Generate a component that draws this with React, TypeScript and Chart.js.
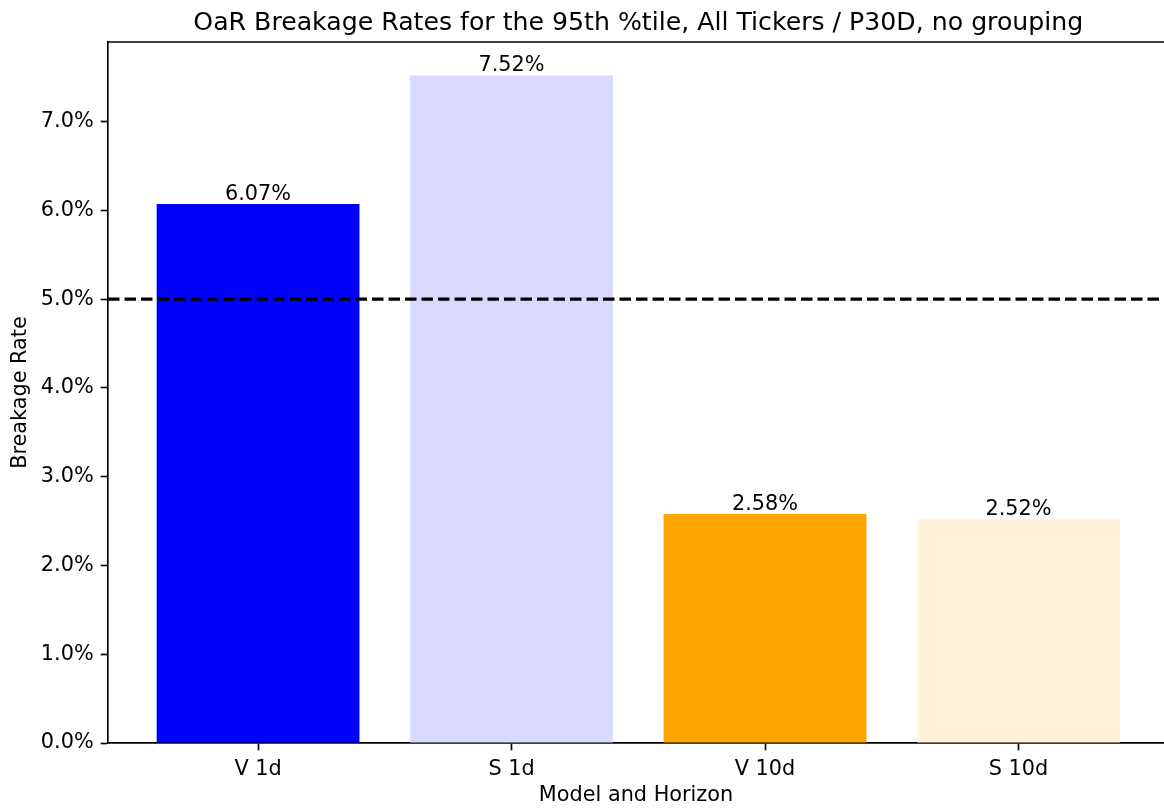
import React, { useEffect, useRef } from "react";
import { Chart, registerables } from "chart.js";

Chart.register(...registerables);

const categories = ["V 1d", "S 1d", "V 10d", "S 10d"];
const breakageRates = [6.07, 7.52, 2.58, 2.52];
const barColors = ["#0000ff", "#d9d9ff", "#ffa500", "#fff2d9"];
const yTicks = [0, 1, 2, 3, 4, 5, 6, 7];
const threshold = 5.0;
const titleText = "OaR Breakage Rates for the 95th %tile, All Tickers / P30D, no grouping";
const xLabel = "Model and Horizon";
const yLabel = "Breakage Rate";

const FONT = "'DejaVu Sans', sans-serif";
const FS = 20.8;

export default function App() {
  const ref = useRef<HTMLCanvasElement | null>(null);

  useEffect(() => {
    const canvas = ref.current;
    if (!canvas) return;

    const decorations = {
      id: "decorations",
      afterDatasetsDraw(chart: any) {
        const ctx = chart.ctx;
        const area = chart.chartArea;
        const y = chart.scales.y;
        const x = chart.scales.x;
        // threshold dashed line
        ctx.save();
        ctx.strokeStyle = "#000";
        ctx.lineWidth = 3.1;
        ctx.setLineDash([11.5, 5]);
        const ty = y.getPixelForValue(threshold);
        ctx.beginPath();
        ctx.moveTo(area.left, ty);
        ctx.lineTo(area.right, ty);
        ctx.stroke();
        ctx.restore();
        // bar labels
        ctx.save();
        ctx.fillStyle = "#000";
        ctx.font = `${FS}px ${FONT}`;
        ctx.textAlign = "center";
        ctx.textBaseline = "alphabetic";
        const meta = chart.getDatasetMeta(0);
        meta.data.forEach((bar: any, i: number) => {
          ctx.fillText(breakageRates[i].toFixed(2) + "%", bar.x, bar.y - 4);
        });
        ctx.restore();
        // top spine
        ctx.save();
        ctx.strokeStyle = "#000";
        ctx.lineWidth = 1.65;
        ctx.beginPath();
        ctx.moveTo(area.left - 0.8, area.top);
        ctx.lineTo(area.right, area.top);
        ctx.stroke();
        ctx.restore();
        // title, centred over the category span
        ctx.save();
        ctx.fillStyle = "#000";
        ctx.font = `25.2px ${FONT}`;
        ctx.textAlign = "center";
        ctx.textBaseline = "alphabetic";
        const cx = x.getPixelForValue((categories.length - 1) / 2);
        ctx.fillText(titleText, cx, area.top - 12);
        ctx.restore();
      },
    };

    const chart = new Chart(canvas, {
      type: "bar",
      data: {
        datasets: [
          {
            data: breakageRates.map((v, i) => ({ x: i, y: v })),
            backgroundColor: barColors,
            borderWidth: 0,
            barPercentage: 1,
            categoryPercentage: 0.8,
          },
        ],
      },
      options: {
        responsive: false,
        animation: false,
        layout: { padding: { top: 42, left: 0, right: 0, bottom: 0 } },
        plugins: {
          legend: { display: false },
          tooltip: { enabled: false },
          title: { display: false },
        },
        scales: {
          x: {
            type: "linear",
            min: -0.592,
            max: 3.574,
            offset: false,
            afterBuildTicks(scale: any) {
              scale.ticks = categories.map((_, i) => ({ value: i }));
            },
            afterFit(scale: any) {
              scale.height = 67;
            },
            ticks: {
              color: "#000",
              font: { family: FONT, size: FS },
              padding: 6.5,
              maxRotation: 0,
              autoSkip: false,
              callback: (v: any) => categories[Math.round(Number(v))] ?? "",
            },
            grid: {
              display: true,
              offset: false,
              drawOnChartArea: false,
              drawTicks: true,
              tickLength: 7.3,
              tickWidth: 1.65,
              tickColor: "#000",
            },
            border: { display: true, color: "#000", width: 1.65 },
            title: {
              display: true,
              text: xLabel,
              color: "#000",
              font: { family: FONT, size: FS },
              padding: { top: 1.8, bottom: 1.8 },
            },
          },
          y: {
            type: "linear",
            min: 0,
            max: 7.896,
            afterBuildTicks(scale: any) {
              scale.ticks = yTicks.map((v) => ({ value: v }));
            },
            afterFit(scale: any) {
              scale.width = 108;
            },
            ticks: {
              color: "#000",
              font: { family: FONT, size: FS },
              padding: 7,
              callback: (v: any) => Number(v).toFixed(1) + "%",
            },
            grid: {
              display: true,
              drawOnChartArea: false,
              drawTicks: true,
              tickLength: 7.3,
              tickWidth: 1.65,
              tickColor: "#000",
            },
            border: { display: true, color: "#000", width: 1.65 },
            title: {
              display: true,
              text: yLabel,
              color: "#000",
              font: { family: FONT, size: FS },
              padding: { top: 8, bottom: 4 },
            },
          },
        },
      },
      plugins: [decorations],
    } as any);

    return () => chart.destroy();
  }, []);

  return (
    <div
      style={{
        position: "fixed",
        left: 0,
        top: 0,
        width: 1164,
        height: 810,
        overflow: "hidden",
        background: "#fff",
      }}
    >
      <canvas ref={ref} width={1164} height={810} style={{ display: "block" }} />
    </div>
  );
}
